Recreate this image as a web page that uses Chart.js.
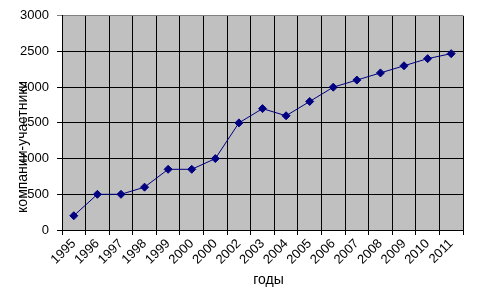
<!DOCTYPE html>
<html>
<head>
<meta charset="utf-8">
<script src="https://cdn.jsdelivr.net/npm/chart.js@4.4.1/dist/chart.umd.min.js"></script>
<style>
  body { margin: 0; background: #fff; }
  #wrap { width: 477px; height: 294px; }
</style>
</head>
<body>
<div id="wrap"><canvas id="myChart"></canvas></div>
<script>
// data
const years = ['1995', '1996', '1997', '1998', '1999', '2000', '2000', '2002', '2003',
    '2004', '2005', '2006', '2007', '2008', '2009', '2010', '2011'];
const companies = [200, 500, 500, 600, 850, 850, 1000, 1500, 1700,
    1600, 1800, 2000, 2100, 2200, 2300, 2400, 2470];
const yMin = 0;
const yMax = 3000;
const yStep = 500;
const yTitle = 'компании-участники';
const xTitle = 'годы';

const FONT = "'Liberation Sans', Arial, sans-serif";

// gray plot area + axis titles placed like in excel
const excelLook = {
    id: 'excelLook',
    beforeDraw(chart) {
        const {ctx, chartArea: a} = chart;
        ctx.save();
        ctx.fillStyle = '#c0c0c0';
        ctx.fillRect(a.left, a.top, a.right - a.left, a.bottom - a.top);
        ctx.restore();
    },
    afterDraw(chart) {
        const {ctx, chartArea: a} = chart;
        ctx.save();
        ctx.fillStyle = '#000';
        ctx.textAlign = 'center';
        ctx.textBaseline = 'middle';
        ctx.font = '14px ' + FONT;
        ctx.fillText(xTitle, (a.left + a.right) / 2 + 6, a.bottom + 50);
        ctx.translate(a.left - 39, (a.top + a.bottom) / 2 + 24);
        ctx.rotate(-Math.PI / 2);
        ctx.fillText(yTitle, 0, 0);
        ctx.restore();
    }
};

const ctx = document.getElementById('myChart').getContext('2d');
new Chart(ctx, {
    type: 'line',
    data: {
        labels: years,
        datasets: [{
            label: yTitle,
            data: companies,
            borderColor: '#000080',
            backgroundColor: '#000080',
            borderWidth: 1,
            tension: 0,
            pointStyle: 'rectRot',
            pointRadius: 4,
            pointHoverRadius: 4
        }]
    },
    options: {
        responsive: true,
        maintainAspectRatio: false,
        animation: false,
        layout: {padding: {top: 15, right: 14, left: 0, bottom: 0}},
        plugins: {
            legend: {display: false},
            tooltip: {enabled: false}
        },
        scales: {
            x: {
                offset: true,
                grid: {
                    offset: true,
                    color: ctx => ctx.index === years.length ? '#808080' : '#000',
                    tickLength: 5
                },
                border: {color: '#000'},
                ticks: {
                    autoSkip: false,
                    minRotation: 45,
                    maxRotation: 45,
                    padding: 1,
                    color: '#000',
                    font: {family: FONT, size: 13}
                },
                afterFit: scale => { scale.height = 64; }
            },
            y: {
                min: yMin,
                max: yMax,
                grid: {
                    color: ctx => ctx.tick && ctx.tick.value === yMax ? '#808080' : '#000',
                    tickLength: 5
                },
                border: {color: '#000'},
                ticks: {
                    stepSize: yStep,
                    padding: 8,
                    color: '#000',
                    font: {family: FONT, size: 13},
                    callback: v => String(v)
                },
                afterFit: scale => { scale.width = 62; }
            }
        }
    },
    plugins: [excelLook]
});
</script>
</body>
</html>
